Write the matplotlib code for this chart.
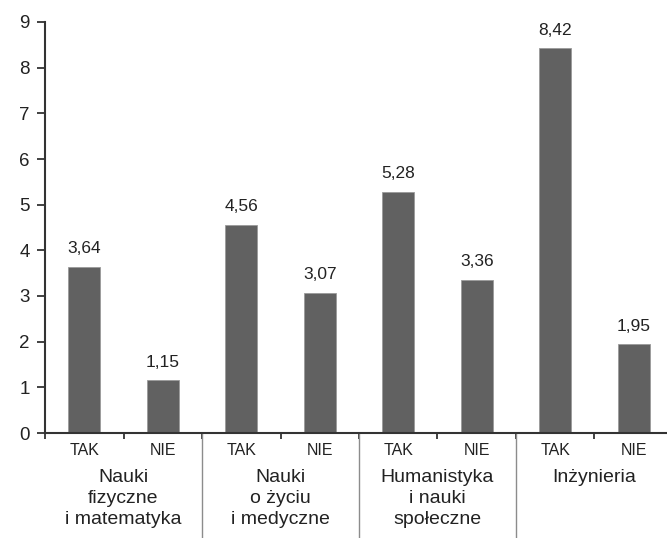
import matplotlib.pyplot as plt
import matplotlib.transforms as mtransforms
import numpy as np

plt.rcParams['font.family'] = ['Liberation Sans', 'DejaVu Sans']

# dane
groups = ["Nauki\nfizyczne\ni matematyka", "Nauki\no życiu\ni medyczne",
          "Humanistyka\ni nauki\nspołeczne", "Inżynieria"]
answers = ["TAK", "NIE"] * 4
values = [3.64, 1.15, 4.56, 3.07, 5.28, 3.36, 8.42, 1.95]

bar_color = "#616161"
axis_color = "#333333"

fig = plt.figure(figsize=(6.67, 5.38), dpi=100)
ax = fig.add_axes([45 / 667, 1 - 433 / 538, 628 / 667, 411 / 538])

x = np.arange(len(values))
ax.bar(x, values, width=0.41, color=bar_color, edgecolor="#9a9a9a", linewidth=0.6)

for xi, v in zip(x, values):
    ax.annotate(f"{v:.2f}".replace(".", ","), (xi, v), xytext=(0, 7.5),
                textcoords="offset points", ha="center", va="bottom",
                fontsize=12.5, color="#222222")

ax.set_xlim(-0.5, len(values) - 0.5)
ax.set_ylim(0, 9)
ax.set_yticks(range(10))
ax.tick_params(axis="y", direction="out", length=6, width=1.3, color=axis_color,
               labelsize=13.5, pad=5, labelcolor="#222222")

ax.set_xticks(x)
ax.set_xticklabels(answers)
ax.tick_params(axis="x", which="major", length=0, labelsize=11.5, pad=7,
               labelcolor="#222222")
ax.set_xticks(np.arange(-0.5, len(values), 1), minor=True)
ax.tick_params(axis="x", which="minor", direction="out", length=4, width=1.3,
               color=axis_color)

for side in ["top", "right"]:
    ax.spines[side].set_visible(False)
for side in ["left", "bottom"]:
    ax.spines[side].set_color(axis_color)
    ax.spines[side].set_linewidth(1.5)

trans = mtransforms.blended_transform_factory(ax.transData, ax.transAxes)
for i, g in enumerate(groups):
    ax.text(2 * i + 0.5, -0.088, g, transform=trans, ha="center", va="top",
            fontsize=14, linespacing=1.32, color="#222222")
for b in [1.5, 3.5, 5.5]:
    ax.plot([b, b], [0, -0.3], transform=trans, color="#8c8c8c", lw=1.0,
            clip_on=False)

fig.savefig("out.png", dpi=100)
